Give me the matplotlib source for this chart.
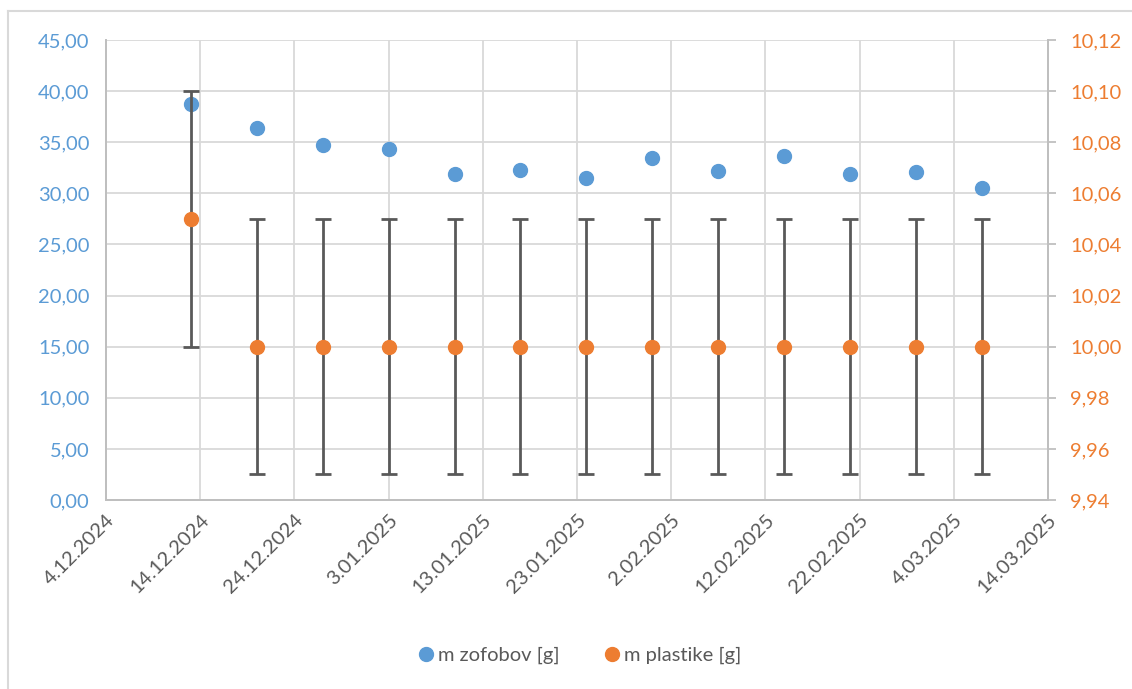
import datetime as dt
import matplotlib
matplotlib.use("Agg")
import matplotlib.pyplot as plt
import matplotlib.dates as mdates
from matplotlib.lines import Line2D
from matplotlib.ticker import FuncFormatter, MultipleLocator

# Measurement dates (weekly)
dates = ["13.12.2024", "20.12.2024", "27.12.2024", "3.01.2025", "10.01.2025",
         "17.01.2025", "24.01.2025", "31.01.2025", "7.02.2025", "14.02.2025",
         "21.02.2025", "28.02.2025", "7.03.2025"]
# Mass of larvae [g] (left axis)
m_zofobov = [38.71, 36.36, 34.74, 34.35, 31.88, 32.24, 31.50, 33.47, 32.14,
             33.62, 31.84, 32.10, 30.48]
# Mass of plastic [g] (right axis) and its uncertainty
m_plastike = [10.05, 10.00, 10.00, 10.00, 10.00, 10.00, 10.00, 10.00, 10.00,
              10.00, 10.00, 10.00, 10.00]
err_plastike = [0.05] * 13

x_start, x_end = "4.12.2024", "14.03.2025"
left_lim = (0, 45)
right_lim = (9.94, 10.12)

BLUE = "#5B9BD5"
ORANGE = "#ED7D31"
GRID = "#D9D9D9"
AXIS = "#BFBFBF"
TEXT = "#595959"
FS = 14.5

plt.rcParams["font.family"] = ["Lato", "DejaVu Sans"]


def parse(d):
    return dt.datetime.strptime(d, "%d.%m.%Y")


def fmt_date(v, pos):
    d = mdates.num2date(v)
    return f"{d.day}.{d.month:02d}.{d.year}"


def fmt_comma(v, pos):
    return f"{v:.2f}".replace(".", ",")


xd = [parse(d) for d in dates]

fig = plt.figure(figsize=(11.32, 6.89), dpi=100)
ax = fig.add_axes([0.0936, 0.2743, 0.9258 - 0.0936, 0.942 - 0.2743])
ax2 = ax.twinx()

ax.set_xlim(parse(x_start), parse(x_end))
ax.set_ylim(*left_lim)
ax2.set_ylim(*right_lim)

ax.set_xticks([parse(x_start) + dt.timedelta(days=10 * i) for i in range(11)])
ax.xaxis.set_major_formatter(FuncFormatter(fmt_date))
ax.yaxis.set_major_locator(MultipleLocator(5))
ax2.yaxis.set_major_locator(MultipleLocator(0.02))
ax.yaxis.set_major_formatter(FuncFormatter(fmt_comma))
ax2.yaxis.set_major_formatter(FuncFormatter(fmt_comma))

ax.grid(True, color=GRID, linewidth=1.3)
ax.set_axisbelow(True)

for a in (ax, ax2):
    a.spines["top"].set_visible(False)
    for s in ("left", "bottom", "right"):
        a.spines[s].set_color(AXIS)
        a.spines[s].set_linewidth(1.3)

ax.tick_params(axis="y", length=0, labelsize=FS, labelcolor=BLUE, pad=12)
ax.tick_params(axis="x", length=0, labelsize=FS, labelcolor=TEXT, pad=8)
ax2.tick_params(axis="y", length=6, width=1.3, color=AXIS, labelsize=FS,
                labelcolor=ORANGE, pad=10)
for lbl in ax.get_xticklabels():
    lbl.set_rotation(45)
    lbl.set_ha("right")
    lbl.set_rotation_mode("anchor")

ax.plot(xd, m_zofobov, "o", color=BLUE, markersize=10, zorder=3)
ax2.errorbar(xd, m_plastike, yerr=err_plastike, fmt="o", color=ORANGE,
             markersize=10, ecolor=TEXT, elinewidth=2, capsize=6,
             capthick=2, zorder=3)

handles = [
    Line2D([], [], marker="o", linestyle="", color=BLUE, markersize=10),
    Line2D([], [], marker="o", linestyle="", color=ORANGE, markersize=10),
]
fig.legend(handles, ["m zofobov [g]", "m plastike [g]"], loc="center",
           bbox_to_anchor=(0.510, 0.049), ncol=2, frameon=False,
           fontsize=FS, labelcolor=TEXT, handletextpad=0.0,
           handlelength=1.2, columnspacing=2.0)

# Chart frame
fig.add_artist(Line2D([8 / 1132, 1.0], [1 - 11 / 689, 1 - 11 / 689],
                      color=GRID, linewidth=1.5, transform=fig.transFigure))
fig.add_artist(Line2D([8 / 1132, 8 / 1132], [0, 1 - 11 / 689],
                      color=GRID, linewidth=1.5, transform=fig.transFigure))

fig.savefig("out.png", dpi=100)
